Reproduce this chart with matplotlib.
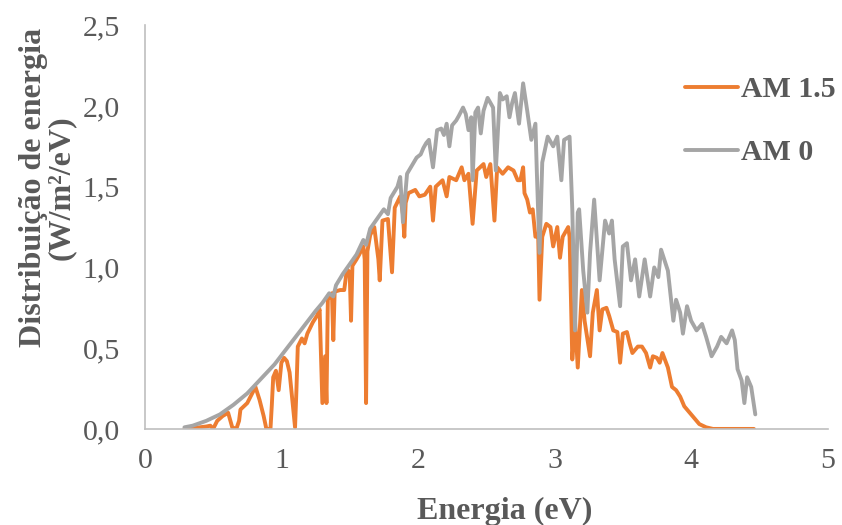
import matplotlib
matplotlib.use("Agg")
import matplotlib.pyplot as plt
from matplotlib.ticker import FuncFormatter

# Espectro solar AM 1.5
e_am15 = [0.29, 0.35, 0.40, 0.45, 0.48, 0.50, 0.53, 0.57, 0.61, 0.63, 0.64, 0.67, 0.69, 0.70,
          0.75, 0.78, 0.81, 0.84, 0.87, 0.89, 0.92, 0.93, 0.94, 0.96, 0.98, 1.00, 1.02, 1.04,
          1.06, 1.09, 1.10, 1.11, 1.12, 1.15, 1.17, 1.19, 1.23, 1.26, 1.28, 1.29, 1.30, 1.31,
          1.32, 1.33, 1.34, 1.37, 1.38, 1.39, 1.43, 1.46, 1.48, 1.50, 1.51, 1.52, 1.55, 1.57,
          1.60, 1.61, 1.62, 1.63, 1.65, 1.68, 1.71, 1.72, 1.74, 1.78, 1.81, 1.83, 1.87, 1.89,
          1.90, 1.91, 1.93, 1.98, 2.01, 2.05, 2.09, 2.11, 2.13, 2.18, 2.21, 2.23, 2.28, 2.32,
          2.34, 2.37, 2.40, 2.43, 2.48, 2.50, 2.53, 2.56, 2.58, 2.62, 2.66, 2.70, 2.73, 2.75,
          2.77, 2.78, 2.80, 2.82, 2.84, 2.86, 2.88, 2.89, 2.91, 2.94, 2.97, 2.99, 3.02, 3.04,
          3.06, 3.10, 3.11, 3.13, 3.15, 3.17, 3.20, 3.22, 3.26, 3.28, 3.31, 3.33, 3.35, 3.38,
          3.40, 3.43, 3.46, 3.48, 3.50, 3.53, 3.55, 3.57, 3.61, 3.64, 3.67, 3.70, 3.72, 3.75,
          3.77, 3.79, 3.83, 3.86, 3.89, 3.92, 3.95, 3.99, 4.03, 4.06, 4.11, 4.16, 4.46]
v_am15 = [0.0, 0.005, 0.01, 0.015, 0.02, 0.0, 0.05, 0.08, 0.10, 0.04, 0.01, 0.0, 0.05, 0.12,
          0.16, 0.21, 0.26, 0.18, 0.08, 0.0, 0.0, 0.15, 0.32, 0.36, 0.24, 0.41, 0.44, 0.42,
          0.35, 0.10, 0.01, 0.24, 0.51, 0.56, 0.53, 0.59, 0.66, 0.70, 0.74, 0.45, 0.16, 0.30,
          0.45, 0.16, 0.80, 0.84, 0.55, 0.85, 0.86, 0.86, 0.99, 0.97, 0.67, 1.01, 1.05, 1.08,
          1.13, 1.05, 0.16, 1.10, 1.20, 1.25, 1.05, 0.92, 1.29, 1.30, 0.97, 1.37, 1.44, 1.33,
          1.19, 1.40, 1.46, 1.48, 1.44, 1.45, 1.50, 1.29, 1.50, 1.54, 1.44, 1.56, 1.54, 1.62,
          1.54, 1.58, 1.27, 1.60, 1.64, 1.56, 1.64, 1.29, 1.62, 1.58, 1.62, 1.60, 1.54, 1.54,
          1.62, 1.46, 1.42, 1.34, 1.36, 1.19, 1.21, 0.80, 1.19, 1.27, 1.25, 1.13, 1.25, 1.06,
          1.19, 1.25, 1.19, 0.43, 0.67, 0.38, 0.86, 0.67, 0.45, 0.72, 0.86, 0.61, 0.74, 0.75,
          0.70, 0.61, 0.60, 0.41, 0.59, 0.60, 0.53, 0.47, 0.51, 0.51, 0.47, 0.38, 0.45, 0.44,
          0.41, 0.47, 0.38, 0.26, 0.24, 0.20, 0.14, 0.10, 0.06, 0.03, 0.01, 0.0, 0.0]

# Espectro solar AM 0
e_am0 = [0.29, 0.35, 0.45, 0.55, 0.65, 0.75, 0.85, 0.95, 1.05, 1.15, 1.25, 1.30, 1.35, 1.38,
         1.40, 1.45, 1.55, 1.60, 1.62, 1.65, 1.75, 1.78, 1.80, 1.85, 1.87, 1.89, 1.92, 1.99,
         2.02, 2.04, 2.06, 2.08, 2.11, 2.14, 2.17, 2.19, 2.21, 2.23, 2.25, 2.28, 2.30, 2.33,
         2.35, 2.37, 2.39, 2.40, 2.42, 2.44, 2.46, 2.48, 2.51, 2.53, 2.55, 2.57, 2.60, 2.62,
         2.65, 2.67, 2.69, 2.71, 2.74, 2.77, 2.80, 2.83, 2.86, 2.87, 2.89, 2.91, 2.95,
         2.99, 3.02, 3.05, 3.07, 3.11, 3.13, 3.15, 3.17, 3.18, 3.21, 3.24, 3.26, 3.29, 3.33,
         3.37, 3.40, 3.42, 3.44, 3.48, 3.50, 3.53, 3.56, 3.59, 3.62, 3.66, 3.70, 3.73, 3.76,
         3.78, 3.83, 3.87, 3.89, 3.92, 3.94, 3.97, 4.00, 4.04, 4.08, 4.11, 4.15, 4.19, 4.22,
         4.26, 4.30, 4.32, 4.34, 4.37, 4.39, 4.41, 4.44, 4.47]
v_am0 = [0.01, 0.02, 0.05, 0.09, 0.15, 0.22, 0.31, 0.40, 0.51, 0.62, 0.73, 0.78, 0.84, 0.82,
         0.89, 0.96, 1.08, 1.17, 1.14, 1.24, 1.36, 1.33, 1.43, 1.50, 1.56, 1.28, 1.58, 1.68,
         1.70, 1.74, 1.77, 1.79, 1.62, 1.85, 1.86, 1.82, 1.89, 1.75, 1.88, 1.91, 1.94, 1.99,
         1.95, 1.85, 1.93, 1.54, 1.96, 1.99, 1.83, 1.97, 2.05, 2.02, 1.99, 1.60, 2.08, 2.04,
         2.06, 1.93, 2.02, 2.08, 1.89, 2.14, 1.97, 1.79, 1.89, 1.60, 1.09, 1.65, 1.81,
         1.75, 1.81, 1.54, 1.79, 1.81, 1.36, 0.61, 1.34, 1.36, 0.98, 0.72, 1.09, 1.42, 0.92,
         1.29, 1.21, 1.29, 1.05, 0.76, 1.13, 1.15, 0.92, 1.05, 0.82, 1.05, 0.82, 1.00, 0.94,
         1.11, 0.98, 0.67, 0.80, 0.72, 0.59, 0.76, 0.67, 0.61, 0.65, 0.57, 0.45, 0.51, 0.57,
         0.53, 0.61, 0.55, 0.37, 0.30, 0.16, 0.32, 0.26, 0.09]

x_ticks = [0, 1, 2, 3, 4, 5]
y_ticks = [0.0, 0.5, 1.0, 1.5, 2.0, 2.5]

cinza_texto = "#595959"
plt.rcParams["font.family"] = ["Liberation Serif", "DejaVu Serif"]

fig = plt.figure(figsize=(8.42, 5.25), dpi=100)
ax = fig.add_axes([0.172, 0.183, 0.811, 0.769])

ax.plot(e_am15, v_am15, color="#ED7D31", linewidth=2.8, label="AM 1.5",
        solid_joinstyle="round", solid_capstyle="round")
ax.plot(e_am0, v_am0, color="#A5A5A5", linewidth=2.8, label="AM 0",
        solid_joinstyle="round", solid_capstyle="round")

ax.set_xlim(0, 5)
ax.set_ylim(0, 2.5)
ax.set_xticks(x_ticks)
ax.set_yticks(y_ticks)
ax.yaxis.set_major_formatter(FuncFormatter(lambda v, p: f"{v:.1f}".replace(".", ",")))
ax.tick_params(length=0, labelsize=21.5, labelcolor=cinza_texto)
ax.tick_params(axis="x", pad=14)
ax.tick_params(axis="y", pad=18)

for lado in ["top", "right"]:
    ax.spines[lado].set_visible(False)
for lado in ["left", "bottom"]:
    ax.spines[lado].set_color("#BFBFBF")
    ax.spines[lado].set_linewidth(1.2)

ax.set_xlabel("Energia (eV)", fontsize=23, fontweight="bold", color=cinza_texto,
              labelpad=16, x=0.527)
ax.set_ylabel("Distribuição de energia\n(W/m²/eV)", fontsize=23, fontweight="bold",
              color=cinza_texto, labelpad=5, linespacing=0.95, y=0.597)

leg = ax.legend(loc="upper left", bbox_to_anchor=(0.8135, 0.855),
                bbox_transform=fig.transFigure, frameon=False, handlelength=1.77,
                handletextpad=0.12, labelspacing=1.2, borderpad=0, borderaxespad=0,
                prop={"size": 21.5, "weight": "bold"})
for t in leg.get_texts():
    t.set_color(cinza_texto)

fig.savefig("out.png", dpi=100)
